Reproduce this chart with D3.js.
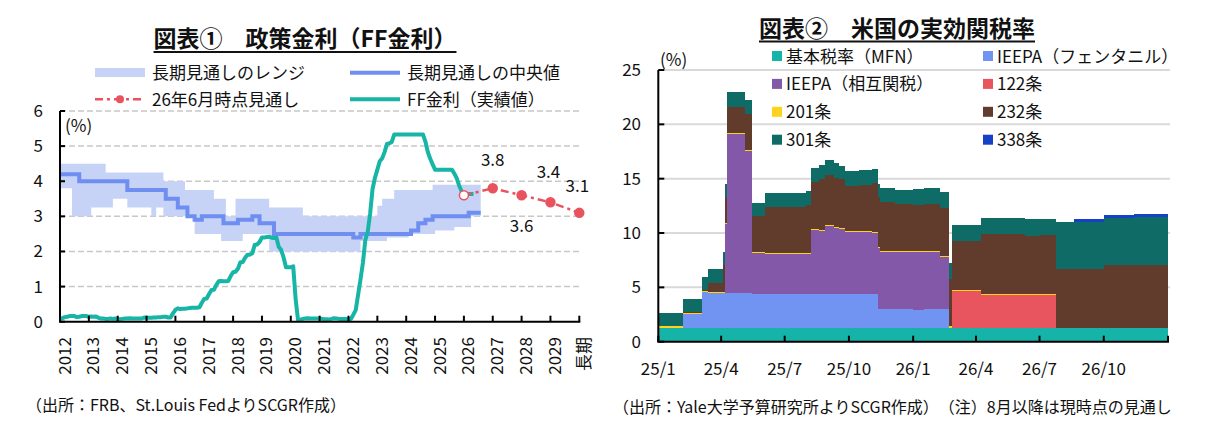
<!DOCTYPE html>
<html>
<head>
<meta charset="utf-8">
<script src="https://cdn.jsdelivr.net/npm/d3@7"></script>
<style>
    body { margin: 0; background: #fff; }
    svg { font-family: "Noto Sans CJK JP", "Noto Sans", sans-serif; }
</style>
</head>
<body>
<svg id="chart" width="1228" height="439"></svg>
<script>
// ---------- 図表① 政策金利 ----------
const yearLabels = ["2012", "2013", "2014", "2015", "2016", "2017", "2018", "2019", "2020",
    "2021", "2022", "2023", "2024", "2025", "2026", "2027", "2028", "2029", "長期"];
const leftTicks = [0, 1, 2, 3, 4, 5, 6];

// FF金利 (月次, 2012年1月から)
const ffRate = [
    0.08, 0.10, 0.13, 0.14, 0.16, 0.16, 0.16, 0.13, 0.14, 0.16, 0.16, 0.16,
    0.14, 0.15, 0.14, 0.15, 0.11, 0.09, 0.09, 0.08, 0.08, 0.09, 0.08, 0.09,
    0.07, 0.07, 0.08, 0.09, 0.09, 0.10, 0.09, 0.09, 0.09, 0.09, 0.09, 0.12,
    0.11, 0.11, 0.11, 0.12, 0.12, 0.13, 0.13, 0.14, 0.14, 0.12, 0.12, 0.24,
    0.34, 0.38, 0.36, 0.37, 0.37, 0.38, 0.39, 0.40, 0.40, 0.40, 0.41, 0.54,
    0.65, 0.66, 0.79, 0.90, 0.91, 1.04, 1.15, 1.16, 1.15, 1.15, 1.16, 1.30,
    1.41, 1.42, 1.51, 1.69, 1.70, 1.82, 1.91, 1.91, 1.95, 2.19, 2.20, 2.27,
    2.40, 2.40, 2.41, 2.42, 2.39, 2.38, 2.40, 2.13, 2.04, 1.83, 1.55, 1.55,
    1.55, 1.58, 0.65, 0.05, 0.05, 0.08, 0.09, 0.10, 0.09, 0.09, 0.09, 0.09,
    0.09, 0.08, 0.07, 0.07, 0.06, 0.08, 0.10, 0.09, 0.08, 0.08, 0.08, 0.08,
    0.08, 0.08, 0.20, 0.33, 0.77, 1.21, 1.68, 2.33, 2.56, 3.08, 3.78, 4.10,
    4.33, 4.57, 4.65, 4.83, 5.06, 5.08, 5.12, 5.33, 5.33, 5.33, 5.33, 5.33,
    5.33, 5.33, 5.33, 5.33, 5.33, 5.33, 5.33, 5.33, 5.13, 4.83, 4.64, 4.48,
    4.33, 4.33, 4.33, 4.33, 4.33, 4.33, 4.33, 4.33, 4.22, 4.09, 3.88, 3.72,
    3.64, 3.64, 3.64, 3.64, 3.64
];

// 長期見通しの中央値
const medianDates = ["2012-01", "2012-09", "2014-05", "2015-09", "2016-02", "2016-06", "2016-09",
    "2016-12", "2017-09", "2018-03", "2018-09", "2018-12", "2019-06", "2022-03", "2022-06",
    "2024-03", "2024-06", "2024-09", "2024-12", "2026-03", "2026-08"];
const medianValues = [4.2, 4.0, 3.75, 3.5, 3.25, 3.0, 2.9, 3.0, 2.8, 2.9, 3.0, 2.8, 2.5, 2.4, 2.5,
    2.6, 2.8, 2.9, 3.0, 3.1, 3.1];

// 長期見通しのレンジ
const rangeDates = ["2012-01", "2012-06", "2013-02", "2013-08", "2013-11", "2014-05", "2015-03",
    "2015-05", "2015-08", "2016-05", "2016-09", "2017-05", "2017-08", "2017-10", "2018-02",
    "2018-05", "2019-04", "2020-06", "2022-06", "2023-01", "2023-03", "2023-05", "2023-08",
    "2024-02", "2024-12", "2025-01", "2025-09", "2026-04", "2026-08"];
const rangeLow = [3.8, 3.0, 3.25, 3.25, 3.5, 3.25, 3.0, 3.25, 3.0, 3.0, 2.5, 2.5, 2.3, 2.3, 2.3,
    2.5, 2.0, 2.0, 2.3, 2.3, 2.3, 2.4, 2.4, 2.5, 2.5, 2.6, 2.7, 3.0, 3.0];
const rangeHigh = [4.5, 4.5, 4.5, 4.25, 4.25, 4.25, 4.25, 4.25, 4.0, 3.75, 3.75, 3.5, 3.5, 3.0, 3.5,
    3.5, 3.25, 3.0, 3.0, 3.3, 3.5, 3.5, 3.75, 3.75, 3.9, 3.9, 3.9, 3.9, 3.9];

// 26年6月時点見通し
const outlookYears = ["2026", "2027", "2028", "2029", "長期"];
const outlookValues = [3.6, 3.8, 3.6, 3.4, 3.1];
const outlookShown = [false, true, true, true, true];

// ---------- 図表② 米国の実効関税率 ----------
const tariffKeys = ["mfn", "fentanyl", "reciprocal", "s122", "s201", "s232", "s301", "s338"];
const tariffNames = ["基本税率（MFN）", "IEEPA（フェンタニル）", "IEEPA（相互関税）", "122条",
    "201条", "232条", "301条", "338条"];
const tariffDates = ["2025-01-01", "2025-02-05", "2025-03-05", "2025-03-13", "2025-04-04",
    "2025-04-07", "2025-04-10", "2025-05-05", "2025-05-15", "2025-06-03", "2025-08-01",
    "2025-08-08", "2025-08-19", "2025-08-28", "2025-09-09", "2025-09-17", "2025-09-26",
    "2025-10-15", "2025-11-03", "2025-11-11", "2025-11-14", "2025-12-06", "2026-01-01",
    "2026-01-16", "2026-02-08", "2026-02-21", "2026-02-25", "2026-04-08", "2026-06-10",
    "2026-07-02", "2026-07-25", "2026-08-20", "2026-10-01", "2026-11-13", "2026-12-31"];
const mfn = [1.3, 1.3, 1.3, 1.3, 1.3, 1.3, 1.3, 1.3, 1.3, 1.3, 1.3, 1.3, 1.3, 1.3, 1.3, 1.3, 1.3,
    1.3, 1.3, 1.3, 1.3, 1.3, 1.3, 1.3, 1.3, 1.3, 1.3, 1.3, 1.3, 1.3, 1.3, 1.3, 1.3, 1.3, 1.3];
const fentanyl = [0, 1.22, 3.27, 3.21, 3.2, 3.15, 3.15, 3.15, 3.05, 3.05, 3.05, 3.05, 3.05, 3.05,
    3.05, 3.05, 3.05, 3.05, 3.05, 1.74, 1.74, 1.74, 1.6, 1.74, 1.74, 0, 0, 0, 0, 0, 0, 0, 0, 0, 0];
const reciprocal = [0, 0, 0, 0, 0, 6.35, 14.63, 13.09, 3.78, 3.7, 3.7, 5.9, 5.8, 6.29, 6.12, 6.05,
    5.74, 5.74, 5.62, 5.56, 5.18, 5.18, 5.32, 5.18, 4.72, 0, 0, 0, 0, 0, 0, 0, 0, 0, 0];
const s122 = [0, 0, 0, 0, 0, 0, 0, 0, 0, 0, 0, 0, 0, 0, 0, 0, 0, 0, 0, 0, 0, 0, 0, 0, 0, 0,
    3.36, 2.97, 2.97, 2.97, 0, 0, 0, 0, 0];
const s201 = [0.1, 0.1, 0.1, 0.1, 0.1, 0.1, 0.1, 0.1, 0.1, 0.1, 0.1, 0.1, 0.1, 0.1, 0.1, 0.1, 0.1,
    0.1, 0.1, 0.1, 0.1, 0.1, 0.1, 0.1, 0.1, 0.1, 0.1, 0.1, 0.1, 0.1, 0, 0, 0, 0, 0];
const s232 = [0.05, 0.12, 0.1, 0.82, 2.46, 2.35, 2.42, 3.34, 3.37, 4.24, 4.43, 4.34, 4.72, 4.59,
    4.53, 4.47, 4.16, 4.22, 4.53, 4.6, 4.56, 4.38, 4.28, 4.38, 4.47, 4.37, 4.5, 5.57, 5.39, 5.44,
    5.39, 5.39, 5.76, 5.76, 5.76];
const s301 = [1.15, 1.2, 1.2, 1.26, 1.22, 1.25, 1.34, 1.26, 1.16, 1.29, 1.28, 1.26, 1.29, 1.39,
    1.34, 1.23, 1.35, 1.39, 1.3, 1.25, 1.26, 1.25, 1.44, 1.44, 1.44, 1.47, 1.48, 1.44, 1.53, 1.48,
    4.32, 4.32, 4.35, 4.41, 4.41];
const s338 = [0, 0, 0, 0, 0, 0, 0, 0, 0, 0, 0, 0, 0, 0, 0, 0, 0, 0, 0, 0, 0, 0, 0, 0, 0, 0, 0, 0,
    0, 0, 0, 0.29, 0.25, 0.28, 0.28];
const quarterLabels = ["25/1", "25/4", "25/7", "25/10", "26/1", "26/4", "26/7", "26/10"];
const rightTicks = [0, 5, 10, 15, 20, 25];

const COLORS = {
    range: "#c6d3f7",
    median: "#6f8ff0",
    ff: "#17b5a6",
    outlook: "#e8535d",
    mfn: "#16b4a8",
    fentanyl: "#7193f1",
    reciprocal: "#8458a8",
    s122: "#e8555f",
    s201: "#ffd21c",
    s232: "#613c2d",
    s301: "#0e6b66",
    s338: "#1540c8"
};

const svg = d3.select("#chart");
const ink = "#111";

function monthPos(s) {
    return +s.slice(0, 4) + (+s.slice(5, 7) - 1) / 12;
}

function underlinedTitle(text, cx, y) {
    let t = svg.append("text")
        .attr("x", cx)
        .attr("y", y)
        .attr("text-anchor", "middle")
        .attr("font-size", 23)
        .attr("font-weight", "bold")
        .attr("fill", ink)
        .text(text);
    let bb = t.node().getBBox();
    svg.append("line")
        .attr("x1", bb.x)
        .attr("x2", bb.x + bb.width)
        .attr("y1", y + 5)
        .attr("y2", y + 5)
        .attr("stroke", ink)
        .attr("stroke-width", 2);
}

// ======== left chart ========
function drawLeft() {
    const x = d3.scaleLinear().domain([2012, 2030]).range([60, 579.3]);
    const y = d3.scaleLinear().domain([0, 6]).range([321.7, 111]);
    const yearPos = (label) => 2012 + yearLabels.indexOf(label);

    underlinedTitle("図表①　政策金利（FF金利）", 305, 47);

    // legend
    let lg = svg.append("g").attr("font-size", 17).attr("fill", ink);
    lg.append("rect").attr("x", 95).attr("y", 68).attr("width", 50).attr("height", 9)
        .attr("fill", COLORS.range);
    lg.append("line").attr("x1", 350).attr("x2", 400).attr("y1", 72.7).attr("y2", 72.7)
        .attr("stroke", COLORS.median).attr("stroke-width", 4);
    lg.append("line").attr("x1", 95).attr("x2", 145).attr("y1", 99.3).attr("y2", 99.3)
        .attr("stroke", COLORS.outlook).attr("stroke-width", 2.5)
        .attr("stroke-dasharray", "8,4,3,4");
    lg.append("circle").attr("cx", 120).attr("cy", 99.3).attr("r", 4).attr("fill", COLORS.outlook);
    lg.append("line").attr("x1", 350).attr("x2", 400).attr("y1", 99.3).attr("y2", 99.3)
        .attr("stroke", COLORS.ff).attr("stroke-width", 4);
    lg.append("text").attr("x", 152).attr("y", 79).text("長期見通しのレンジ");
    lg.append("text").attr("x", 407).attr("y", 79).text("長期見通しの中央値");
    lg.append("text").attr("x", 152).attr("y", 105.5).text("26年6月時点見通し");
    lg.append("text").attr("x", 407).attr("y", 105.5).text("FF金利（実績値）");

    // gridlines
    svg.append("g").selectAll("line")
        .data(leftTicks.filter(d => d > 0))
        .join("line")
        .attr("x1", x(2012)).attr("x2", x(2030) + 1)
        .attr("y1", d => y(d)).attr("y2", d => y(d))
        .attr("stroke", "#c8c8c8")
        .attr("stroke-width", 1.5)
        .attr("stroke-dasharray", "6,3");

    // range band
    let bandData = rangeDates.map((d, i) => ({ t: monthPos(d), lo: rangeLow[i], hi: rangeHigh[i] }));
    svg.append("path")
        .datum(bandData)
        .attr("fill", COLORS.range)
        .attr("d", d3.area()
            .x(d => x(d.t))
            .y0(d => y(d.lo))
            .y1(d => y(d.hi))
            .curve(d3.curveStepAfter));

    // median
    let medData = medianDates.map((d, i) => ({ t: monthPos(d), v: medianValues[i] }));
    svg.append("path")
        .datum(medData)
        .attr("fill", "none")
        .attr("stroke", COLORS.median)
        .attr("stroke-width", 4)
        .attr("d", d3.line()
            .x(d => x(d.t))
            .y(d => y(d.v))
            .curve(d3.curveStepAfter));

    // FF rate
    svg.append("path")
        .datum(ffRate)
        .attr("fill", "none")
        .attr("stroke", COLORS.ff)
        .attr("stroke-width", 4)
        .attr("stroke-linejoin", "round")
        .attr("d", d3.line()
            .x((d, i) => x(2012 + i / 12))
            .y(d => y(d)));

    // outlook
    let outData = outlookYears.map((d, i) => ({ t: yearPos(d), v: outlookValues[i], show: outlookShown[i] }));
    svg.append("path")
        .datum(outData)
        .attr("fill", "none")
        .attr("stroke", COLORS.outlook)
        .attr("stroke-width", 2.5)
        .attr("stroke-dasharray", "8,4,3,4")
        .attr("d", d3.line().x(d => x(d.t)).y(d => y(d.v)));
    svg.append("g").selectAll("circle")
        .data(outData)
        .join("circle")
        .attr("cx", d => x(d.t))
        .attr("cy", d => y(d.v))
        .attr("r", 4.5)
        .attr("fill", d => d.show ? COLORS.outlook : "#fff")
        .attr("stroke", COLORS.outlook)
        .attr("stroke-width", 1.5);

    // labels: above except the 2028 one, which sits below
    const labelDy = [0, -22, 37, -24, -21];
    const labelDx = [0, 0, 0, -2, -2];
    svg.append("g").selectAll("text")
        .data(outData)
        .join("text")
        .filter(d => d.show)
        .attr("x", d => x(d.t) + labelDx[outData.indexOf(d)])
        .attr("y", d => y(d.v) + labelDy[outData.indexOf(d)])
        .attr("text-anchor", "middle")
        .attr("font-size", 17)
        .attr("fill", ink)
        .text(d => d.v.toFixed(1));

    // axes
    let ax = svg.append("g").attr("stroke", "#000").attr("stroke-width", 2);
    ax.append("line").attr("x1", x(2012)).attr("x2", x(2012)).attr("y1", y(6)).attr("y2", y(0));
    ax.append("line").attr("x1", x(2012) - 1).attr("x2", x(2030) + 1).attr("y1", y(0)).attr("y2", y(0));
    ax.selectAll(".yt").data(leftTicks).join("line")
        .attr("x1", x(2012)).attr("x2", x(2012) + 5)
        .attr("y1", d => y(d)).attr("y2", d => y(d));
    ax.selectAll(".xt").data(yearLabels).join("line")
        .attr("x1", d => x(yearPos(d))).attr("x2", d => x(yearPos(d)))
        .attr("y1", y(0)).attr("y2", y(0) - 6);

    svg.append("g").selectAll("text")
        .data(leftTicks)
        .join("text")
        .attr("x", 43)
        .attr("y", d => y(d) + 6)
        .attr("text-anchor", "end")
        .attr("font-size", 17)
        .attr("fill", ink)
        .text(d => d);

    svg.append("g").selectAll("text")
        .data(yearLabels)
        .join("text")
        .attr("transform", d => "translate(" + (x(yearPos(d)) + 3) + ",337) rotate(-90)")
        .attr("text-anchor", "end")
        .attr("dominant-baseline", "central")
        .attr("font-size", 17)
        .attr("fill", ink)
        .text(d => d);

    svg.append("text").attr("x", 65).attr("y", 132).attr("font-size", 17).attr("fill", ink).text("(%)");

    svg.append("text").attr("x", 26).attr("y", 411).attr("font-size", 16).attr("fill", ink)
        .text("（出所：FRB、St.Louis FedよりSCGR作成）");
}

// ======== right chart ========
function drawRight() {
    const parse = d3.timeParse("%Y-%m-%d");
    const x = d3.scaleTime().domain([new Date(2025, 0, 1), new Date(2027, 0, 1)]).range([658.3, 1168]);
    const y = d3.scaleLinear().domain([0, 25]).range([341.7, 70]);

    underlinedTitle("図表②　米国の実効関税率", 897, 36.5);

    // gridlines
    svg.append("g").selectAll("line")
        .data(rightTicks.filter(d => d > 0))
        .join("line")
        .attr("x1", x.range()[0]).attr("x2", 1170)
        .attr("y1", d => y(d)).attr("y2", d => y(d))
        .attr("stroke", "#d9d9d9")
        .attr("stroke-width", 2);

    let series = { mfn, fentanyl, reciprocal, s122, s201, s232, s301, s338 };
    let rows = tariffDates.map((d, i) => {
        let r = { date: parse(d) };
        tariffKeys.forEach(k => r[k] = series[k][i]);
        return r;
    });
    // last row closes the year
    rows[rows.length - 1].date = new Date(2027, 0, 1);

    let stacked = d3.stack().keys(tariffKeys)(rows);
    let area = d3.area()
        .x(d => x(d.data.date))
        .y0(d => y(d[0]))
        .y1(d => y(d[1]))
        .curve(d3.curveStepAfter);

    svg.append("g").selectAll("path")
        .data(stacked)
        .join("path")
        .attr("fill", d => COLORS[d.key])
        .attr("shape-rendering", "crispEdges")
        .attr("d", area);

    // legend
    let leg = svg.append("g").selectAll("g")
        .data(tariffKeys)
        .join("g")
        .attr("transform", (d, i) => "translate(" + (i % 2 === 0 ? 772 : 983) + "," + (56 + Math.floor(i / 2) * 27.9) + ")");
    leg.append("rect").attr("x", 0).attr("y", -5).attr("width", 10).attr("height", 10)
        .attr("fill", d => COLORS[d]);
    leg.append("text").attr("x", 14).attr("y", 6.5).attr("font-size", 17).attr("fill", ink)
        .text((d, i) => tariffNames[i]);

    // axes
    let quarterDates = quarterLabels.map(s => new Date(2000 + +s.split("/")[0], +s.split("/")[1] - 1, 1));
    let tickDates = quarterDates.concat([x.domain()[1]]);
    let ax = svg.append("g").attr("stroke", "#000").attr("stroke-width", 2);
    ax.append("line").attr("x1", x.range()[0]).attr("x2", x.range()[0]).attr("y1", y(25)).attr("y2", y(0));
    ax.append("line").attr("x1", x.range()[0] - 1).attr("x2", x.range()[1] + 1).attr("y1", y(0)).attr("y2", y(0));
    ax.selectAll(".yt").data(rightTicks).join("line")
        .attr("x1", x.range()[0]).attr("x2", x.range()[0] + 6)
        .attr("y1", d => y(d)).attr("y2", d => y(d));
    ax.selectAll(".xt").data(tickDates).join("line")
        .attr("x1", d => x(d)).attr("x2", d => x(d))
        .attr("y1", y(0)).attr("y2", y(0) - 6);

    svg.append("g").selectAll("text")
        .data(rightTicks)
        .join("text")
        .attr("x", 641)
        .attr("y", d => y(d) + 6)
        .attr("text-anchor", "end")
        .attr("font-size", 17)
        .attr("fill", ink)
        .text(d => d);

    svg.append("g").selectAll("text")
        .data(quarterDates)
        .join("text")
        .attr("x", d => x(d))
        .attr("y", 375)
        .attr("text-anchor", "middle")
        .attr("font-size", 17)
        .attr("fill", ink)
        .text((d, i) => quarterLabels[i]);

    svg.append("text").attr("x", 660).attr("y", 66).attr("font-size", 17).attr("fill", ink).text("(%)");

    svg.append("text").attr("x", 613).attr("y", 413).attr("font-size", 16).attr("fill", ink)
        .text("（出所：Yale大学予算研究所よりSCGR作成）　（注）8月以降は現時点の見通し");
}

drawLeft();
drawRight();
</script>
</body>
</html>
